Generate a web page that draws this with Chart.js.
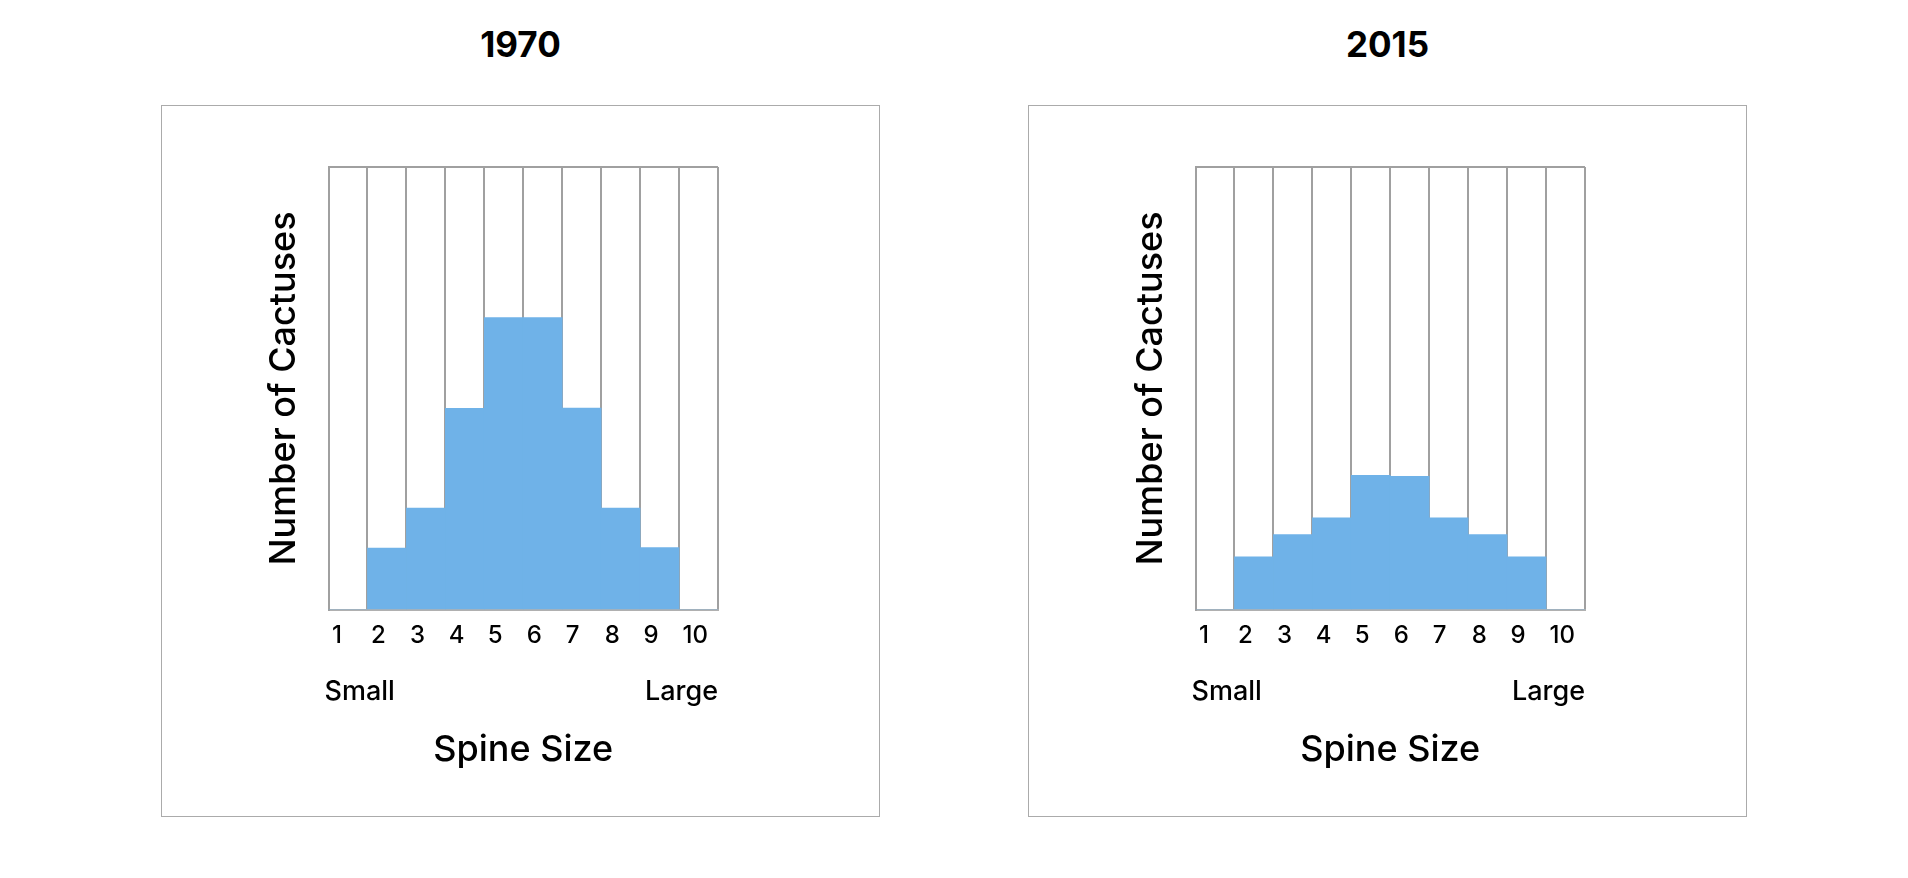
<!DOCTYPE html>
<html>
<head>
<meta charset="utf-8">
<script src="https://cdn.jsdelivr.net/npm/chart.js@4"></script>
<style>
  html, body { margin: 0; padding: 0; background: #fff; }
  body { width: 1908px; height: 878px; position: relative; overflow: hidden; font-family: 'Inter', sans-serif; }
  .title { position: absolute; top: 26px; width: 719px; text-align: center; font-weight: 700; font-size: 35px; line-height: 36px; color: #000; }
  .box { position: absolute; top: 105px; width: 717px; height: 710px; border: 1px solid #ababab; }
  .box canvas { display: block; }
</style>
</head>
<body>
<div class="title" style="left:161px">1970</div>
<div class="title" style="left:1028px">2015</div>
<div class="box" style="left:161px"><canvas id="c1"></canvas></div>
<div class="box" style="left:1028px"><canvas id="c2"></canvas></div>
<script>
// ---- data ----
const categories = ['1', '2', '3', '4', '5', '6', '7', '8', '9', '10'];
const counts1970 = [0, 14, 23, 45.5, 66, 66, 45.6, 23, 14.1, 0];
const counts2015 = [0, 12, 17, 20.8, 30.4, 30.2, 20.8, 17, 12, 0];
const sizeEndLabels = ['Small', 'Large'];
const yMax = 100;
const xTitle = 'Spine Size';
const yTitle = 'Number of Cactuses';

const FONT = "'Inter', 'Open Sans', sans-serif";
const GRID = '#a0a0a0';
const BAR = '#6fb2e8';

function makeConfig(values) {
  return {
    type: 'bar',
    data: {
      labels: categories,
      datasets: [{
        data: values,
        backgroundColor: BAR,
        borderWidth: 0,
        barPercentage: 1,
        categoryPercentage: 1
      }]
    },
    options: {
      responsive: true,
      maintainAspectRatio: false,
      animation: false,
      layout: { padding: { top: 61, right: 161, left: 0, bottom: 0 } },
      plugins: { legend: { display: false }, tooltip: { enabled: false }, title: { display: false } },
      scales: {
        x: {
          type: 'category',
          position: 'bottom',
          weight: 0,
          z: 1,
          grid: { display: true, offset: true, color: GRID, lineWidth: 2, drawTicks: false },
          border: { display: true, color: '#b0b0b0', width: 2 },
          ticks: { color: '#000', font: { family: FONT, size: 24, weight: 500 }, padding: 11, maxRotation: 0, autoSkip: false, align: 'start', labelOffset: -16 },
          afterFit: (s) => { s.height = 50; }
        },
        x2: {
          type: 'linear',
          position: 'bottom',
          weight: 1,
          min: 0.01,
          max: 1,
          offset: false,
          grid: { display: false, drawTicks: false, offset: false },
          border: { display: false },
          afterBuildTicks: (s) => { s.ticks = [{ value: 0 }, { value: 1 }]; },
          ticks: {
            align: 'inner',
            color: '#000',
            font: { family: FONT, size: 27, weight: 500 },
            padding: 16,
            maxRotation: 0,
            autoSkip: false,
            callback: (v) => (v === 0 ? sizeEndLabels[0] : sizeEndLabels[1])
          },
          title: { display: true, text: xTitle, color: '#000', font: { family: FONT, size: 36, weight: 500 }, padding: { top: 0, bottom: 44 } },
          afterFit: (s) => { s.height = 156; }
        },
        y: {
          min: 0,
          max: yMax,
          position: 'left',
          z: 1,
          ticks: { display: false, stepSize: yMax },
          grid: {
            drawTicks: false,
            lineWidth: 2,
            color: (ctx) => (ctx.tick && ctx.tick.value === yMax ? GRID : 'rgba(0,0,0,0)')
          },
          border: { display: true, color: GRID, width: 2 },
          title: { display: true, text: yTitle, color: '#000', font: { family: FONT, size: 36, weight: 500 }, padding: { top: 101, bottom: 0 } },
          afterFit: (s) => { s.width = 166.5; }
        }
      }
    }
  };
}

new Chart(document.getElementById('c1'), makeConfig(counts1970));
new Chart(document.getElementById('c2'), makeConfig(counts2015));
</script>
</body>
</html>
